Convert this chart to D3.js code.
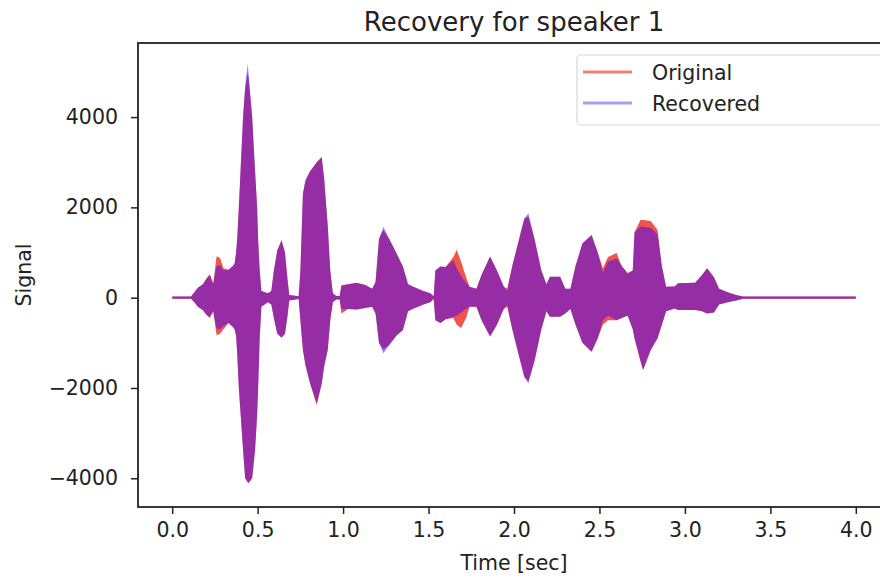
<!DOCTYPE html>
<html>
<head>
<meta charset="utf-8">
<script src="https://cdn.jsdelivr.net/npm/d3@7/dist/d3.min.js"></script>
<style>
  html, body { margin: 0; padding: 0; background: #fff; }
  svg { display: block; font-family: "DejaVu Sans", sans-serif; }
</style>
</head>
<body>
<svg id="chart" width="880" height="578"></svg>
<script>
// Envelope of the waveforms (upper / lower excursion)
const time = [0.00,0.11,0.13,0.15,0.18,0.20,0.22,0.24,0.26,0.28,
  0.30,0.33,0.355,0.365,0.374,0.38,0.39,0.415,0.427,0.442,
  0.446,0.468,0.485,0.497,0.503,0.512,0.522,0.56,0.58,0.595,
  0.615,0.64,0.66,0.675,0.685,0.74,0.75,0.765,0.78,0.807,
  0.846,0.875,0.89,0.91,0.925,0.94,0.96,0.98,0.99,1.03,
  1.08,1.13,1.17,1.19,1.21,1.236,1.27,1.31,1.35,1.38,
  1.41,1.47,1.51,1.53,1.54,1.57,1.60,1.645,1.665,1.69,
  1.72,1.74,1.78,1.81,1.86,1.90,1.94,1.96,1.99,2.03,
  2.06,2.084,2.12,2.16,2.19,2.21,2.27,2.30,2.33,2.36,
  2.40,2.454,2.49,2.52,2.55,2.60,2.63,2.665,2.695,2.705,
  2.74,2.755,2.80,2.84,2.865,2.89,2.94,2.96,3.06,3.10,
  3.13,3.17,3.20,3.25,3.30,3.34,4.00];
const origUpper = [25,25,120,220,300,420,520,320,920,880,
  650,620,700,750,1000,1280,2000,4000,4600,4980,
  4900,4000,2800,2000,1280,600,150,100,150,600,
  1050,1280,1000,400,60,30,600,2300,2600,2800,
  3000,3120,2600,1600,600,100,40,40,280,300,
  330,280,200,350,1300,1500,1300,1000,690,300,
  245,150,100,30,600,690,680,900,1060,800,
  450,245,200,500,910,600,250,200,700,1300,
  1750,1800,1300,600,300,465,465,200,200,700,
  1200,1390,1000,650,900,990,700,540,600,1450,
  1720,1720,1700,1500,700,245,250,320,330,500,
  650,450,200,120,60,25,25];
const origLower = [-25,-25,-100,-200,-280,-380,-450,-300,-830,-800,
  -700,-560,-650,-700,-850,-1200,-2000,-3370,-4000,-4080,
  -4110,-4000,-3370,-2600,-2000,-900,-200,-100,-150,-450,
  -800,-890,-800,-400,-60,-30,-500,-1160,-1500,-1900,
  -2380,-1900,-1500,-1160,-500,-100,-40,-40,-350,-250,
  -260,-230,-200,-350,-1000,-1150,-1050,-850,-715,-300,
  -245,-150,-100,-30,-500,-560,-480,-450,-600,-670,
  -450,-200,-200,-500,-860,-600,-250,-200,-700,-1300,
  -1750,-1850,-1400,-700,-300,-420,-420,-350,-250,-600,
  -1000,-1200,-900,-600,-500,-500,-450,-400,-700,-900,
  -1400,-1600,-1160,-900,-600,-300,-240,-270,-270,-300,
  -350,-330,-150,-100,-60,-25,-25];
const recUpper = [25,25,120,220,300,420,500,300,700,720,
  600,620,700,750,1000,1280,2000,4050,4700,5180,
  5000,4000,2800,2000,1280,600,150,100,150,600,
  1050,1260,1000,400,60,30,600,2300,2600,2800,
  3000,3100,2600,1600,600,100,40,40,250,300,
  330,280,200,350,1300,1570,1300,1000,690,300,
  245,150,100,30,600,690,680,830,650,480,
  330,245,200,500,910,600,250,150,700,1300,
  1750,1870,1300,600,300,465,465,200,200,700,
  1200,1390,1000,550,800,870,700,540,600,1450,
  1570,1570,1550,1400,700,245,250,320,330,500,
  650,450,200,120,60,25,25];
const recLower = [-25,-25,-100,-200,-280,-380,-430,-300,-680,-700,
  -620,-560,-650,-700,-850,-1200,-2000,-3400,-4000,-4100,
  -4110,-4000,-3370,-2600,-2000,-900,-200,-100,-150,-450,
  -800,-880,-800,-400,-60,-30,-500,-1160,-1500,-1900,
  -2330,-1900,-1500,-1160,-500,-100,-40,-40,-250,-250,
  -260,-230,-200,-350,-1000,-1230,-1050,-850,-715,-300,
  -245,-150,-100,-30,-500,-560,-480,-420,-400,-330,
  -250,-200,-200,-500,-860,-600,-250,-150,-700,-1300,
  -1750,-1900,-1400,-700,-300,-420,-420,-350,-250,-600,
  -1000,-1200,-900,-500,-400,-500,-450,-400,-700,-900,
  -1400,-1600,-1160,-900,-600,-300,-240,-270,-270,-300,
  -350,-330,-150,-100,-60,-25,-25];

const xTicks = [0.0,0.5,1.0,1.5,2.0,2.5,3.0,3.5,4.0];
const yTicks = [-4000,-2000,0,2000,4000];
const seriesNames = ["Original","Recovered"];
const titleText = "Recovery for speaker 1";
const xLabel = "Time [sec]";
const yLabel = "Signal";

const svg = d3.select("#chart");
const pL = 138, pR = 890, pT = 43, pB = 507;
const x = d3.scaleLinear().domain([-0.2, 4.2]).range([pL, pR]);
const y = d3.scaleLinear().domain([-4636, 5641]).range([pB, pT]);

const rows = time.map((t, i) => ({t, oH: origUpper[i], oL: origLower[i], rH: recUpper[i], rL: recLower[i]}));

const areaO = d3.area().x(d => x(d.t)).y0(d => y(d.oL)).y1(d => y(d.oH));
const areaR = d3.area().x(d => x(d.t)).y0(d => y(d.rL)).y1(d => y(d.rH));

svg.append("path").datum(rows).attr("d", areaO).attr("fill", "rgb(240,85,75)");
svg.append("path").datum(rows).attr("d", areaR).attr("fill", "rgb(60,5,255)").attr("fill-opacity", 0.5);

// axes
const fs = 20.5;
const gx = svg.append("g").attr("transform", `translate(0,${pB})`)
  .call(d3.axisBottom(x).tickValues(xTicks).tickFormat(d3.format(".1f")).tickSize(7).tickPadding(8));
const gy = svg.append("g").attr("transform", `translate(${pL},0)`)
  .call(d3.axisLeft(y).tickValues(yTicks).tickFormat(d3.format("d")).tickSize(7).tickPadding(13));
[gx, gy].forEach(g => {
  g.select(".domain").remove();
  g.selectAll(".tick line").attr("stroke", "#222").attr("stroke-width", 1.5);
  g.selectAll(".tick text").attr("fill", "#222").style("font-size", fs + "px").style("font-family", "DejaVu Sans");
});
gy.selectAll(".tick text").text(d => d < 0 ? "\u2212" + Math.abs(d) : String(d));

// frame
svg.append("rect").attr("x", pL).attr("y", pT).attr("width", pR - pL).attr("height", pB - pT)
  .attr("fill", "none").attr("stroke", "#222").attr("stroke-width", 1.8);

// title & labels
svg.append("text").attr("x", (pL + pR) / 2).attr("y", 31).attr("text-anchor", "middle")
  .style("font-size", "26px").attr("fill", "#222").text(titleText);
svg.append("text").attr("x", (pL + pR) / 2).attr("y", 570).attr("text-anchor", "middle")
  .style("font-size", fs + "px").attr("fill", "#222").text(xLabel);
svg.append("text").attr("transform", `translate(31,${(pT + pB) / 2}) rotate(-90)`).attr("text-anchor", "middle")
  .style("font-size", fs + "px").attr("fill", "#222").text(yLabel);

// legend
const lg = svg.append("g");
lg.append("rect").attr("x", 577).attr("y", 55).attr("width", 320).attr("height", 70).attr("rx", 4)
  .attr("fill", "#fff").attr("fill-opacity", 0.85).attr("stroke", "#d8d8d8").attr("stroke-width", 1.2);
const legendColors = ["rgba(235,60,50,0.65)", "rgba(70,70,235,0.5)"];
seriesNames.forEach((name, i) => {
  const ly = 72 + i * 31;
  lg.append("line").attr("x1", 583).attr("x2", 632).attr("y1", ly).attr("y2", ly)
    .attr("stroke", legendColors[i]).attr("stroke-width", 3);
  lg.append("text").attr("x", 652).attr("y", ly + 8).style("font-size", fs + "px").attr("fill", "#222").text(name);
});
</script>
</body>
</html>
